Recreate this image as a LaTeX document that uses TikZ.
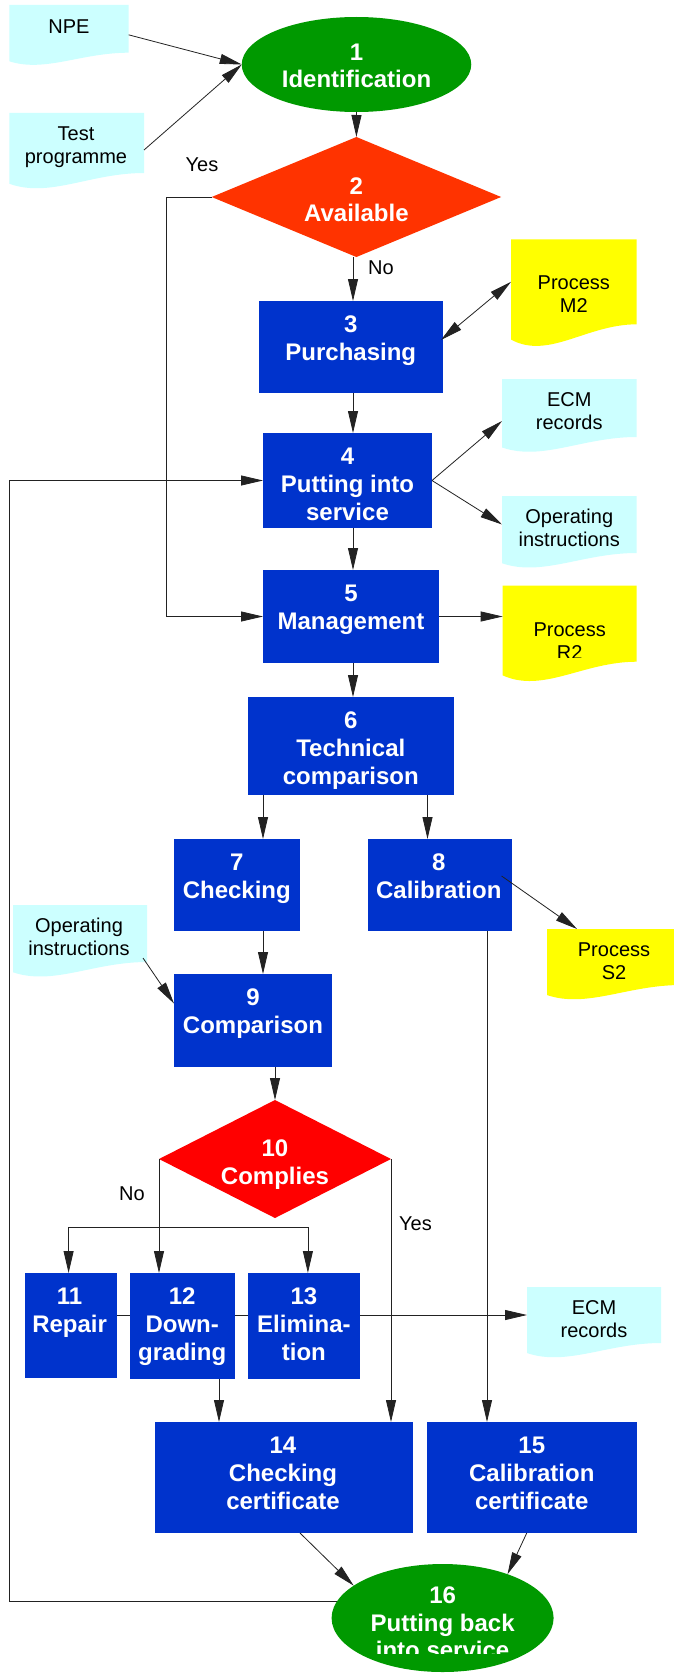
\documentclass[tikz,border=0pt]{standalone}
\usepackage{fontspec}
\setmainfont{Liberation Sans}
\usetikzlibrary{shapes.geometric,arrows.meta,calc}
\pgfdeclarelayer{background}
\pgfsetlayers{background,main}

\definecolor{procblue}{HTML}{0033CC}
\definecolor{startgreen}{HTML}{009900}
\definecolor{askorange}{HTML}{FF3300}
\definecolor{askred}{HTML}{FF0000}
\definecolor{doccyan}{HTML}{CCFFFF}
\definecolor{docyellow}{HTML}{FFFF00}
\definecolor{wire}{HTML}{222222}

\tikzset{
  shapebase/.style={inner sep=0pt, outer sep=0pt, draw=none},
  procbox/.style={shapebase, rectangle, fill=procblue},
  oval/.style={shapebase, ellipse, fill=startgreen},
  ask/.style={shapebase, diamond, fill=#1},
  docarea/.style={shapebase, rectangle},
  boldtxt/.style={text=white, font=\fontsize{24pt}{27.6pt}\selectfont\bfseries, align=center, inner sep=0pt},
  plaintxt/.style={text=black, font=\fontsize{20pt}{23pt}\selectfont, align=center, inner sep=0pt},
  conn/.style={draw=wire, line width=0.8pt, ->},
}

% wavy-bottomed document sheet behind a docarea node
\newcommand\docsheet[2]{%
  \begin{pgfonlayer}{background}
    \fill[#2] let \p1=(#1.north west), \p2=(#1.south east),
                  \n1={\x2-\x1}, \n2={\y1-\y2} in
      (\p1) -- (\x2,\y1) -- (\p2)
      .. controls (\x1+0.6*\n1,\y2) and (\x1+0.3*\n1,\y2-0.42*\n2) ..
      (\x1,\y2-0.18*\n2) -- cycle;
  \end{pgfonlayer}}

\begin{document}
\begin{tikzpicture}[x=1pt, y=-1pt, >={Triangle[length=22pt,width=10pt]}]
\useasboundingbox (0,0) rectangle (673,1675);
\begin{pgfonlayer}{background}
  \fill[white] (0,0) rectangle (673,1675);
\end{pgfonlayer}

% ---------- documents ----------
\node[docarea, minimum width=119.4pt, minimum height=47.7pt] (npe)  at (69,28.85) {};
\node[docarea, minimum width=134.6pt, minimum height=60pt]   (test) at (76.7,143) {};
\node[docarea, minimum width=125.7pt, minimum height=85pt]   (m2)   at (573.85,281.8) {};
\node[docarea, minimum width=134.5pt, minimum height=58pt]   (ecm1) at (569.25,408) {};
\node[docarea, minimum width=134.5pt, minimum height=57pt]   (oi1)  at (569.25,524.5) {};
\node[docarea, minimum width=134pt,   minimum height=76pt]   (r2)   at (569.7,623.7) {};
\node[docarea, minimum width=134pt,   minimum height=56pt]   (s2)   at (614,957) {};
\node[docarea, minimum width=134pt,   minimum height=57pt]   (oi2)  at (80,933.5) {};
\node[docarea, minimum width=134pt,   minimum height=56pt]   (ecm2) at (594,1315) {};

\docsheet{npe}{doccyan}
\docsheet{test}{doccyan}
\docsheet{m2}{docyellow}
\docsheet{ecm1}{doccyan}
\docsheet{oi1}{doccyan}
\docsheet{r2}{docyellow}
\docsheet{s2}{docyellow}
\docsheet{oi2}{doccyan}
\docsheet{ecm2}{doccyan}

\node[plaintxt] (npeT)  at (npe.center) {\strut NPE};
\node[plaintxt] (testT) at ($(test.center)+(-0.7,4.6)$) {\strut Test\\\strut programme};
\node[plaintxt] (m2T)   at ($(m2.center)+(0,14.8)$) {\strut Process\\\strut M2};
\node[plaintxt] (ecm1T) at ($(ecm1.center)+(0,5.6)$) {\strut ECM\\\strut records};
\node[plaintxt] (oi1T)  at ($(oi1.center)+(0,6)$) {\strut Operating\\\strut instructions};
\begin{scope}
  \clip (r2.north west) rectangle ($(r2.south east)+(0,-4.7)$);
  \node[plaintxt] (r2T) at ($(r2.center)+(0,19.3)$) {\strut Process\\\strut R2};
\end{scope}
\node[plaintxt] (s2T)   at ($(s2.center)+(0,6)$) {\strut Process\\\strut S2};
\node[plaintxt] (oi2T)  at ($(oi2.center)+(-1,6)$) {\strut Operating\\\strut instructions};
\node[plaintxt] (ecm2T) at ($(ecm2.center)+(0,6)$) {\strut ECM\\\strut records};

% ---------- start / decisions / end ----------
\node[oval, minimum width=229.5pt, minimum height=95pt] (e1) at (356.5,64.5) {};
\node[boldtxt] (e1T) at ($(e1.center)+(0,4)$) {\strut 1\\\strut Identification};

\node[ask=askorange, minimum width=289.4pt, minimum height=120pt] (d2) at (356.4,197) {};
\node[boldtxt] (d2T) at ($(d2.center)+(0,5.5)$) {\strut 2\\\strut Available};

\node[ask=askred, minimum width=232pt, minimum height=118pt] (d10) at (275,1159) {};
\node[boldtxt] (d10T) at ($(d10.center)+(0,6)$) {\strut 10\\\strut Complies};

\node[oval, minimum width=222pt, minimum height=108pt] (e16) at (442.6,1618) {};
\begin{scope}
  \clip ($(e16.west)+(0,-100)$) rectangle ($(e16.east)+(0,35)$);
  \node[boldtxt] (e16T) at ($(e16.center)+(0,7.5)$) {\strut 16\\\strut Putting back\\\strut into service};
\end{scope}

% ---------- process steps ----------
\node[procbox, minimum width=183.5pt, minimum height=92pt]  (b3)  at (350.75,347) {};
\node[procbox, minimum width=169pt,   minimum height=95pt]  (b4)  at (347.5,480.5) {};
\node[procbox, minimum width=176pt,   minimum height=93pt]  (b5)  at (351,616.5) {};
\node[procbox, minimum width=205.6pt, minimum height=98pt]  (b6)  at (350.8,746) {};
\node[procbox, minimum width=125.6pt, minimum height=92pt]  (b7)  at (236.8,885) {};
\node[procbox, minimum width=143.6pt, minimum height=92pt]  (b8)  at (439.8,885) {};
\node[procbox, minimum width=158pt,   minimum height=93pt]  (b9)  at (253,1020.5) {};
\node[procbox, minimum width=92.2pt,  minimum height=105pt] (b11) at (70.6,1325.5) {};
\node[procbox, minimum width=105.2pt, minimum height=106pt] (b12) at (182.2,1326) {};
\node[procbox, minimum width=111.7pt, minimum height=106pt] (b13) at (303.9,1326) {};
\node[procbox, minimum width=258pt,   minimum height=111pt] (b14) at (284,1477.5) {};
\node[procbox, minimum width=209.5pt, minimum height=111pt] (b15) at (531.75,1477.5) {};

\node[boldtxt, anchor=north] (b3T)  at ($(b3.north)+(0,12.3)$)  {\strut 3\\\strut Purchasing};
\node[boldtxt, anchor=north] (b4T)  at ($(b4.north)+(0,12.3)$)  {\strut 4\\\strut Putting into\\\strut service};
\node[boldtxt, anchor=north] (b5T)  at ($(b5.north)+(0,12.3)$)  {\strut 5\\\strut Management};
\node[boldtxt, anchor=north] (b6T)  at ($(b6.north)+(0,12.3)$)  {\strut 6\\\strut Technical\\\strut comparison};
\node[boldtxt, anchor=north] (b7T)  at ($(b7.north)+(0,12.3)$)  {\strut 7\\\strut Checking};
\node[boldtxt, anchor=north] (b8T)  at ($(b8.north)+(-1,12.3)$) {\strut 8\\\strut Calibration};
\node[boldtxt, anchor=north] (b9T)  at ($(b9.north)+(0,12.3)$)  {\strut 9\\\strut Comparison};
\node[boldtxt, anchor=north] (b11T) at ($(b11.north)+(-1,12.3)$) {\strut 11\\\strut Repair};
\node[boldtxt, anchor=north] (b12T) at ($(b12.north)+(0,12.3)$) {\strut 12\\\strut Down-\\\strut grading};
\node[boldtxt, anchor=north] (b13T) at ($(b13.north)+(0,12.3)$) {\strut 13\\\strut Elimina-\\\strut tion};
\node[boldtxt, anchor=north] (b14T) at ($(b14.north)+(-1,12.3)$) {\strut 14\\\strut Checking\\\strut certificate};
\node[boldtxt, anchor=north] (b15T) at ($(b15.north)+(0,12.3)$) {\strut 15\\\strut Calibration\\\strut certificate};

% ---------- branch labels ----------
\node[plaintxt] (yesA) at (202,165)   {Yes};
\node[plaintxt] (noA)  at (381,268)   {No};
\node[plaintxt] (noB)  at (132,1194)  {No};
\node[plaintxt] (yesB) at (415.5,1224) {Yes};

% ---------- rails used by the connectors ----------
\coordinate (spine)    at (353,0);
\coordinate (yesrail)  at (166,0);
\coordinate (leftcol)  at (263,0);
\coordinate (rightcol) at (427.5,0);
\coordinate (calcol)   at (487,0);
\coordinate (certcol)  at (219,0);
\coordinate (backrail) at (9.4,0);
\coordinate (fork)     at ($(d10.west)+(0,68)$);

% ---------- connectors ----------
\draw[conn] ($(npe.east)+(0,6)$) -- (e1.west);
\draw[conn] ($(test.east)+(0,7)$) -- (e1.west);
\draw[conn] (e1.south) -- (d2.north);
\draw[conn] (d2.south -| spine) -- (b3.north -| spine);
\draw[conn, <->] ($(b3.east)+(-1.5,-7)$) -- (m2.west);
\draw[conn] (b3.south -| spine) -- (b4.north -| spine);
\draw[conn] (b4.east) -- ($(ecm1.west)+(0,13)$);
\draw[conn] (b4.east) -- (oi1.west);
\draw[conn] (b4.south -| spine) -- (b5.north -| spine);
\draw[conn] (d2.west) -- (d2.west -| yesrail) |- (b5.west);
\draw[conn] (b5.east) -- (b5.east -| r2.west);
\draw[conn] (b5.south -| spine) -- (b6.north -| spine);
\draw[conn] (b6.south -| leftcol) -- (b7.north -| leftcol);
\draw[conn] (b6.south -| rightcol) -- (b8.north -| rightcol);
\draw[conn] (b7.south -| leftcol) -- (b9.north -| leftcol);
\draw[conn] ($(oi2.south east)+(-4,-4)$) -- ($(b9.west)+(0,-17)$);
\draw[conn] ($(b8.east)+(-10,-9)$) -- ($(s2.north west)+(30,0)$);
\draw[conn] (b8.south -| calcol) -- (b15.north -| calcol);
\draw[conn] (b9.south -| d10.north) -- (d10.north);
\draw[conn] (d10.west) -- (d10.west |- b12.north);
\draw[conn] (fork) -| ($(b11.north)+(-2,0)$);
\draw[conn] (fork) -| ($(b13.north)+(4,0)$);
\draw[conn] (d10.east) -- (d10.east |- b14.north);
\begin{pgfonlayer}{background}
  \draw[conn] (b11.east |- ecm2.west) -- (ecm2.west);
\end{pgfonlayer}
\draw[conn] (b12.south -| certcol) -- (b14.north -| certcol);
\draw[conn] ($(b14.south)+(16,0)$) -- (e16.160);
\draw[conn] ($(b15.south)+(-5,0)$) -- (e16.34);
\draw[conn] (e16.171) -- (e16.171 -| backrail) |- (b4.west);
\end{tikzpicture}
\end{document}
